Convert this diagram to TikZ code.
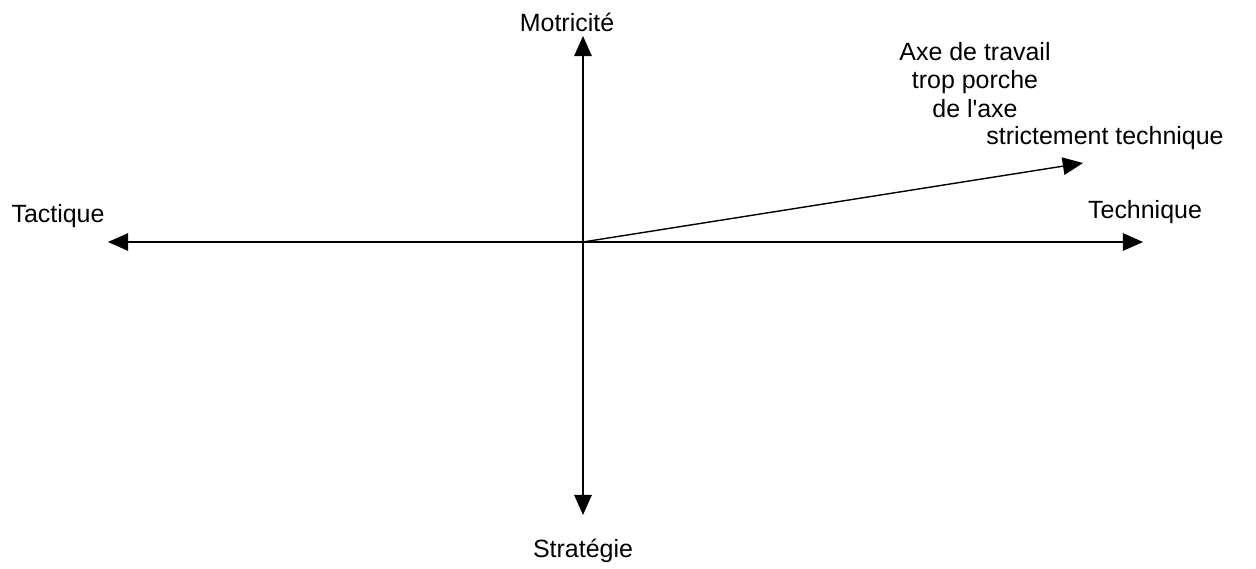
\documentclass[tikz,border=0pt]{standalone}
\usepackage{fontspec}
\setmainfont{Liberation Sans}
\usetikzlibrary{arrows.meta,positioning}
\tikzset{
  axelabel/.style={font=\fontsize{14.2}{16.2}\selectfont,inner sep=1pt,align=center},
  axearr/.style={-{Triangle[length=11.5pt,width=10pt]},line width=0.8pt,color=black}
}
\begin{document}
\begin{tikzpicture}

  \useasboundingbox (-11.66,-6.54) rectangle (13.46,4.84);

  \coordinate (o) at (0,0);
  \coordinate (tac) at (-9.5,0);
  \coordinate (tec) at (11.2,0);
  \coordinate (mot) at (0,4.12);
  \coordinate (str) at (0,-5.46);
  \coordinate (axe) at (10.0,1.58);

  \node[axelabel] (ltac) at (-10.5,0.52) {Tactique};
  \node[axelabel] (ltec) at (11.24,0.6) {Technique};
  \node[axelabel] (lmot) at (-0.32,4.4) {Motricité};
  \node[axelabel, below=0.45cm of str] (lstr) {Stratégie};
  \node[axelabel] (laxe) at (7.84,3.24) {Axe de travail\\trop porche\\de l\textquotesingle axe};
  \node[axelabel] (lstrict) at (10.44,2.08) {strictement technique};

  \draw[axearr] (o) -- (tac);
  \draw[axearr] (o) -- (tec);
  \draw[axearr] (o) -- (mot);
  \draw[axearr] (o) -- (str);
  \draw[axearr] (o) -- (axe);

\end{tikzpicture}
\end{document}
